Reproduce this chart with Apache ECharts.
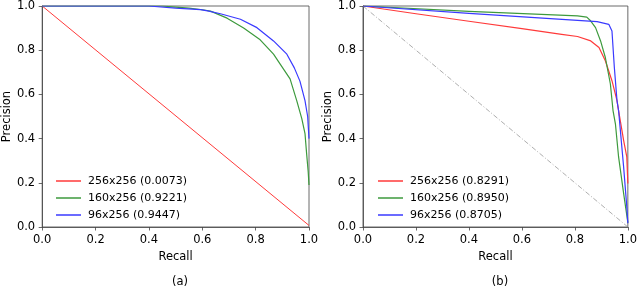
<!DOCTYPE html>
<html>
<head>
<meta charset="utf-8">
<script src="https://cdn.jsdelivr.net/npm/echarts@6/dist/echarts.min.js"></script>
<style>
html,body{margin:0;padding:0;background:#fff;}
#chart{width:640px;height:286px;}
</style>
</head>
<body>
<div id="chart"></div>
<script>
// ---- Data ----
const xTicks = [0.0, 0.2, 0.4, 0.6, 0.8, 1.0];

// Panel (a)
const a_names = ['256x256 (0.0073)', '160x256 (0.9221)', '96x256 (0.9447)'];
const a_red_recall = [0.0, 1.0];
const a_red_precision = [1.0, 0.007];
const a_green_recall = [0.0, 0.45, 0.5, 0.55, 0.6, 0.631, 0.693, 0.755, 0.817, 0.867, 0.892, 0.929, 0.954, 0.973, 0.985, 0.991, 0.997, 1.0];
const a_green_precision = [1.0, 1.0, 0.995, 0.99, 0.983, 0.977, 0.945, 0.9, 0.847, 0.782, 0.737, 0.67, 0.572, 0.49, 0.423, 0.333, 0.25, 0.19];
const a_blue_recall = [0.0, 0.4, 0.5, 0.593, 0.62, 0.668, 0.743, 0.805, 0.867, 0.917, 0.945, 0.966, 0.985, 0.995, 1.0];
const a_blue_precision = [1.0, 1.0, 0.99, 0.984, 0.978, 0.965, 0.94, 0.902, 0.842, 0.782, 0.72, 0.66, 0.572, 0.5, 0.40];

// Panel (b)
const b_names = ['256x256 (0.8291)', '160x256 (0.8950)', '96x256 (0.8705)'];
const b_red_recall = [0.0, 0.2, 0.4, 0.6, 0.75, 0.81, 0.86, 0.891, 0.915, 0.94, 0.959, 0.965, 0.984, 0.996, 1.0];
const b_red_precision = [1.0, 0.965, 0.931, 0.898, 0.872, 0.862, 0.842, 0.812, 0.752, 0.662, 0.572, 0.527, 0.392, 0.317, 0.197];
const b_green_recall = [0.0, 0.4, 0.81, 0.845, 0.86, 0.878, 0.897, 0.915, 0.934, 0.944, 0.953, 0.965, 0.984, 1.0];
const b_green_precision = [1.0, 0.976, 0.955, 0.95, 0.932, 0.902, 0.842, 0.767, 0.647, 0.527, 0.467, 0.317, 0.152, 0.02];
const b_blue_recall = [0.0, 0.4, 0.81, 0.884, 0.928, 0.94, 0.949, 0.959, 0.965, 0.984, 0.996, 1.0];
const b_blue_precision = [1.0, 0.967, 0.935, 0.929, 0.917, 0.887, 0.722, 0.572, 0.527, 0.272, 0.091, 0.017];
const b_chance_recall = [0.0, 1.0];
const b_chance_precision = [1.0, 0.0];

const subLabels = ['(a)', '(b)'];

// ---- Chart ----
const FONT = 'DejaVu Sans';
const COLORS = { red: '#ff3a3a', green: '#3d9a3d', blue: '#3a3aff' };
function zip(xs, ys) { return xs.map((x, i) => [x, ys[i]]); }

const chart = echarts.init(document.getElementById('chart'), null, { renderer: 'canvas' });

function xAxisCfg(gi) {
  return {
    type: 'value', gridIndex: gi, min: 0, max: 1, interval: 0.2,
    name: 'Recall', nameLocation: 'middle', nameGap: 22,
    nameTextStyle: { fontFamily: FONT, fontSize: 11.5, color: '#000' },
    axisLine: { show: true, lineStyle: { color: '#444', width: 0.8 } },
    axisTick: { show: true, inside: false, length: 3.5, lineStyle: { color: '#444', width: 0.8 } },
    axisLabel: { margin: 7, fontFamily: FONT, fontSize: 11.5, color: '#000', formatter: v => v.toFixed(1) },
    splitLine: { show: false }
  };
}
function yAxisCfg(gi) {
  return {
    type: 'value', gridIndex: gi, min: 0, max: 1, interval: 0.2,
    name: 'Precision', nameLocation: 'middle', nameGap: 28, nameRotate: 90,
    nameTextStyle: { fontFamily: FONT, fontSize: 11.5, color: '#000' },
    axisLine: { show: true, lineStyle: { color: '#444', width: 0.8 } },
    axisTick: { show: true, inside: false, length: 3.5, lineStyle: { color: '#444', width: 0.8 } },
    axisLabel: { margin: 7, fontFamily: FONT, fontSize: 11.5, color: '#000', formatter: v => v.toFixed(1) },
    splitLine: { show: false }
  };
}
function lineSeries(name, gi, xs, ys, color, width) {
  return {
    name: name, type: 'line', xAxisIndex: gi, yAxisIndex: gi,
    data: zip(xs, ys), showSymbol: false, symbol: 'none', smooth: false,
    lineStyle: { color: color, width: width, join: 'round' }, itemStyle: { color: color },
    emphasis: { disabled: true }, animation: false, z: 3
  };
}
function legendCfg(left, names) {
  return {
    orient: 'vertical', left: left, top: 169,
    icon: 'rect', itemWidth: 25, itemHeight: 1.5, itemGap: 3,
    textStyle: { fontFamily: FONT, fontSize: 11, color: '#000', lineHeight: 14, padding: [0, 0, 0, 2] },
    data: names, selectedMode: false
  };
}

const option = {
  backgroundColor: '#fff',
  animation: false,
  grid: [
    { left: 41, top: 5, width: 268, height: 222, show: true, borderColor: '#444', borderWidth: 0.8, backgroundColor: 'transparent' },
    { left: 363, top: 5, width: 268, height: 222, show: true, borderColor: '#444', borderWidth: 0.8, backgroundColor: 'transparent' }
  ],
  xAxis: [xAxisCfg(0), xAxisCfg(1)],
  yAxis: [yAxisCfg(0), yAxisCfg(1)],
  legend: [legendCfg(51, a_names), legendCfg(373, b_names)],
  title: [
    { text: subLabels[0], left: 175, top: 271, textAlign: 'center', textStyle: { fontFamily: FONT, fontSize: 11.5, fontWeight: 'normal', color: '#000' } },
    { text: subLabels[1], left: 495, top: 271, textAlign: 'center', textStyle: { fontFamily: FONT, fontSize: 11.5, fontWeight: 'normal', color: '#000' } }
  ],
  series: [
    lineSeries(a_names[0], 0, a_red_recall, a_red_precision, COLORS.red, 1),
    lineSeries(a_names[1], 0, a_green_recall, a_green_precision, COLORS.green, 1.2),
    lineSeries(a_names[2], 0, a_blue_recall, a_blue_precision, COLORS.blue, 1.2),
    {
      name: 'chance', type: 'line', xAxisIndex: 1, yAxisIndex: 1,
      data: zip(b_chance_recall, b_chance_precision), showSymbol: false, symbol: 'none',
      lineStyle: { color: '#999', width: 0.8, type: [5, 2, 1, 2] }, z: 2, animation: false
    },
    lineSeries(b_names[0], 1, b_red_recall, b_red_precision, COLORS.red, 1.2),
    lineSeries(b_names[1], 1, b_green_recall, b_green_precision, COLORS.green, 1.2),
    lineSeries(b_names[2], 1, b_blue_recall, b_blue_precision, COLORS.blue, 1.2)
  ]
};
chart.setOption(option);
</script>
</body>
</html>
